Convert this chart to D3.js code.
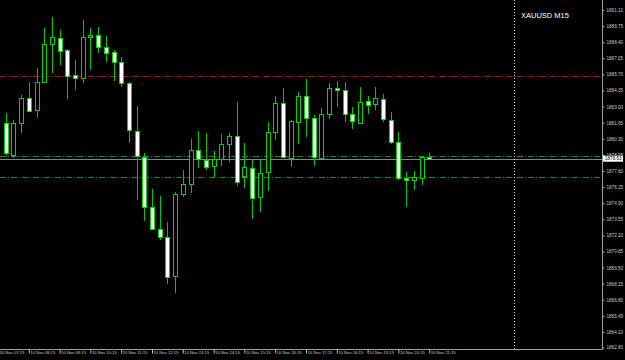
<!DOCTYPE html>
<html>
<head>
<meta charset="utf-8">
<script src="https://cdnjs.cloudflare.com/ajax/libs/d3/7.8.5/d3.min.js"></script>
<style>
  body { margin: 0; background: #000; }
  svg { display: block; }
</style>
</head>
<body>
<div id="chart"></div>
<script>
// XAUUSD M15, 10 Nov
const times = ["07:30","07:45","08:00","08:15","08:30","08:45","09:00","09:15","09:30","09:45",
  "10:00","10:15","10:30","10:45","11:00","11:15","11:30","11:45","12:00","12:15",
  "12:30","12:45","13:00","13:15","13:30","13:45","14:00","14:15","14:30","14:45",
  "15:00","15:15","15:30","15:45","16:00","16:15","16:30","16:45","17:00","17:15",
  "17:30","17:45","18:00","18:15","18:30","18:45","19:00","19:15","19:30","19:45",
  "20:00","20:15","20:30","20:45","21:00","21:15"];

const open = [1881.60,1878.94,1881.63,1883.75,1882.72,1885.09,1888.22,1888.78,1887.75,1885.62,
  1885.34,1888.81,1889.00,1888.02,1887.55,1886.74,1884.95,1880.98,1878.80,1874.61,
  1872.74,1872.09,1868.74,1875.65,1876.49,1879.36,1878.52,1878.02,1878.58,1879.84,
  1880.54,1877.12,1877.88,1875.45,1877.46,1880.85,1883.28,1878.72,1881.73,1883.89,
  1882.02,1878.67,1882.35,1884.53,1884.39,1882.35,1881.68,1883.47,1883.16,1883.61,
  1881.88,1880.01,1877.04,1876.85,1877.07,1878.80];
const high = [1882.46,1881.88,1883.97,1885.09,1886.26,1889.62,1890.51,1889.42,1887.83,1886.91,
  1890.26,1889.57,1889.65,1888.92,1887.75,1887.13,1885.06,1883.05,1879.08,1876.07,
  1875.50,1873.35,1875.86,1877.68,1880.28,1880.98,1880.76,1879.30,1880.70,1880.81,
  1883.41,1879.97,1878.52,1878.52,1881.71,1883.89,1884.59,1881.88,1884.25,1885.31,
  1882.30,1882.91,1884.95,1885.15,1885.04,1882.99,1884.62,1883.91,1884.62,1884.06,
  1882.57,1880.90,1877.54,1877.60,1878.86,1879.13];
const low = [1878.86,1878.69,1880.79,1882.63,1882.07,1885.00,1885.84,1886.49,1883.61,1884.39,
  1884.95,1886.07,1887.47,1886.77,1885.15,1884.67,1879.97,1875.17,1873.43,1872.65,
  1871.81,1868.13,1867.35,1875.40,1875.73,1877.83,1877.68,1876.99,1878.02,1878.38,
  1876.34,1876.15,1873.55,1874.19,1875.92,1880.20,1878.65,1877.96,1879.86,1880.48,
  1878.02,1878.58,1881.94,1882.99,1881.73,1881.12,1881.65,1882.35,1882.72,1881.73,
  1879.86,1876.85,1874.61,1876.01,1876.43,1878.61];
const close = [1879.11,1881.63,1883.72,1882.66,1885.09,1888.25,1888.81,1887.69,1885.59,1885.40,
  1888.81,1889.00,1888.02,1887.55,1886.74,1884.95,1881.04,1878.88,1874.61,1872.74,
  1872.09,1868.74,1875.65,1876.49,1879.36,1878.58,1877.96,1878.58,1879.84,1880.54,
  1876.65,1877.91,1875.40,1877.46,1880.85,1883.28,1878.72,1881.79,1883.89,1882.02,
  1878.72,1882.35,1884.53,1884.39,1882.35,1881.73,1883.41,1883.16,1883.70,1881.94,
  1880.01,1876.99,1876.85,1877.07,1878.80,1878.63];

const priceTicks = [1891.10,1889.75,1888.40,1887.05,1885.70,1884.35,1883.00,1881.65,1880.30,1878.95,
  1877.60,1876.25,1874.90,1873.55,1872.20,1870.85,1869.50,1868.15,1866.80,1865.45,1864.10,1862.80];
const timeTicks = ["07:15","08:15","09:15","10:15","11:15","12:15","13:15","14:15","15:15",
  "16:15","17:15","18:15","19:15","20:15","21:15"];

const redLevel = 1885.57;
const greenLevels = [1878.86, 1877.07];
const bid = 1878.63;
const symbol = "XAUUSD M15";

const width = 625, height = 360;
const plotRight = 602.5, plotBottom = 349.5;
const parse = d3.utcParse("%H:%M");

const x = d3.scaleUtc()
  .domain([parse("07:15"), parse("21:15")])
  .range([-2, 429.2]);
const y = d3.scaleLinear()
  .domain([1862.80, 1891.10])
  .range([347.5, 10]);

// snap to pixel grid so 1px strokes stay crisp
const px = v => Math.round(v) + 0.5;

const bars = times.map((t, i) => ({ t: parse(t), o: open[i], h: high[i], l: low[i], c: close[i] }));

const svg = d3.select("#chart").append("svg")
  .attr("width", width)
  .attr("height", height)
  .style("background", "#000");

svg.append("clipPath").attr("id", "clip")
  .append("rect").attr("width", plotRight).attr("height", plotBottom);
const g = svg.append("g").attr("clip-path", "url(#clip)");

// horizontal levels
g.append("line")
  .attr("x1", 0).attr("x2", plotRight)
  .attr("y1", px(y(redLevel))).attr("y2", px(y(redLevel)))
  .attr("stroke", "#d00000").attr("stroke-width", 1)
  .attr("stroke-dasharray", "6,2,1,2");

g.selectAll(".glevel").data(greenLevels).enter().append("line")
  .attr("class", "glevel")
  .attr("x1", 0).attr("x2", plotRight)
  .attr("y1", d => px(y(d))).attr("y2", d => px(y(d)))
  .attr("stroke", "#1f8a1f").attr("stroke-width", 1)
  .attr("stroke-dasharray", "6,2,1,2");

g.append("line")
  .attr("x1", 0).attr("x2", plotRight)
  .attr("y1", px(y(bid))).attr("y2", px(y(bid)))
  .attr("stroke", "#778899").attr("stroke-width", 1);

// dotted vertical marker
g.append("line")
  .attr("x1", 514.5).attr("x2", 514.5)
  .attr("y1", 0).attr("y2", plotBottom)
  .attr("stroke", "#d0d0d0").attr("stroke-width", 1)
  .attr("stroke-dasharray", "1,2");

// wicks
g.selectAll(".wick").data(bars).enter().append("line")
  .attr("class", "wick")
  .attr("x1", d => px(x(d.t)))
  .attr("x2", d => px(x(d.t)))
  .attr("y1", d => Math.round(y(d.h)))
  .attr("y2", d => Math.round(y(d.l)))
  .attr("stroke", "#00c800").attr("stroke-width", 1);

// bodies: bull black, bear white
g.selectAll(".body").data(bars).enter().append("rect")
  .attr("class", "body")
  .attr("x", d => px(x(d.t)) - 2)
  .attr("y", d => px(y(Math.max(d.o, d.c))))
  .attr("width", 4)
  .attr("height", d => Math.max(1, Math.round(Math.abs(y(d.o) - y(d.c)))))
  .attr("fill", d => d.c >= d.o ? "#000" : "#fff")
  .attr("stroke", "#00d800").attr("stroke-width", 1);

// axes frame
svg.append("line")
  .attr("x1", plotRight).attr("x2", plotRight)
  .attr("y1", 0).attr("y2", plotBottom)
  .attr("stroke", "#a0a0a0");
svg.append("line")
  .attr("x1", 0).attr("x2", plotRight)
  .attr("y1", plotBottom).attr("y2", plotBottom)
  .attr("stroke", "#a0a0a0");

// price axis
const yAxis = svg.append("g")
  .attr("transform", `translate(${plotRight},0)`)
  .call(d3.axisRight(y).tickValues(priceTicks).tickFormat(d3.format(".2f")).tickSize(2).tickPadding(2));
yAxis.select(".domain").remove();
yAxis.selectAll("line").attr("stroke", "#b0b0b0");
yAxis.selectAll("text")
  .attr("fill", "#c8c8c8")
  .style("font", "4.6px 'Liberation Sans', Arial, sans-serif");

// bid label box
const bidBox = svg.append("g").attr("transform", `translate(603,${y(bid)})`);
bidBox.append("rect")
  .attr("x", 0).attr("y", -3).attr("width", 20).attr("height", 6)
  .attr("fill", "#fff");
bidBox.append("text")
  .attr("x", 2).attr("y", 1.7)
  .attr("fill", "#000")
  .style("font", "4.6px 'Liberation Sans', Arial, sans-serif")
  .text(d3.format(".2f")(bid));

// time axis
const xAxis = svg.append("g")
  .attr("transform", `translate(0,${plotBottom})`)
  .call(d3.axisBottom(x).tickValues(timeTicks.map(parse)).tickFormat(d => "10 Nov " + d3.utcFormat("%H:%M")(d)).tickSize(4).tickPadding(0));
xAxis.select(".domain").remove();
xAxis.selectAll("line").attr("stroke", "#c0c0c0");
xAxis.selectAll("text")
  .attr("fill", "#c8c8c8")
  .attr("text-anchor", "start")
  .attr("dx", 1)
  .attr("y", 2)
  .style("font", "4.2px 'Liberation Sans', Arial, sans-serif");

// symbol title
svg.append("text")
  .attr("x", 521).attr("y", 18)
  .attr("fill", "#fff")
  .style("font", "7.5px 'Liberation Sans', Arial, sans-serif")
  .text(symbol);
</script>
</body>
</html>
